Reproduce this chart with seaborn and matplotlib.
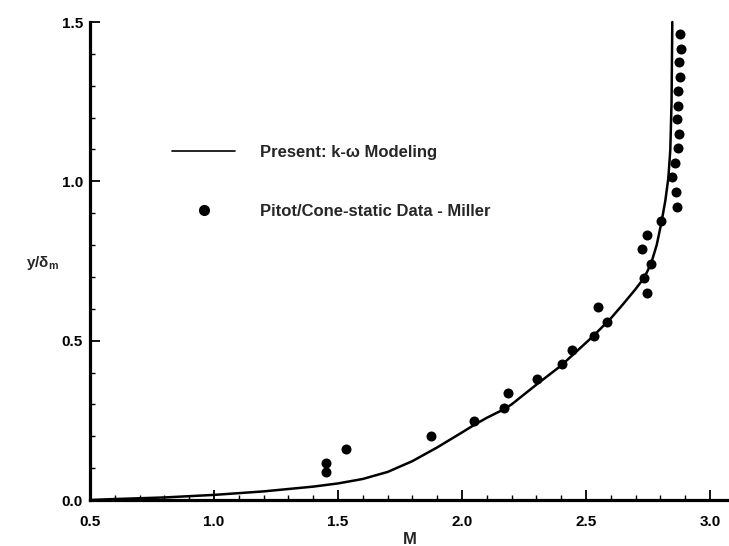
import matplotlib
matplotlib.use("Agg")
import matplotlib.pyplot as plt
from matplotlib.ticker import MultipleLocator
from matplotlib.lines import Line2D
import seaborn as sns
import pandas as pd

# Model curve
curve_M = [0.50, 0.60, 0.80, 1.00, 1.20, 1.40, 1.50, 1.60, 1.70, 1.80, 1.90, 2.00,
           2.05, 2.10, 2.17, 2.20, 2.30, 2.40, 2.53, 2.60, 2.65, 2.70, 2.735, 2.762,
           2.785, 2.804, 2.82, 2.832, 2.840, 2.845, 2.848]
curve_y = [0.000, 0.003, 0.008, 0.016, 0.027, 0.042, 0.052, 0.066, 0.088, 0.122,
           0.165, 0.212, 0.236, 0.258, 0.285, 0.300, 0.362, 0.422, 0.515, 0.570,
           0.615, 0.662, 0.698, 0.741, 0.800, 0.870, 0.940, 1.010, 1.100, 1.250,
           1.500]

# Experimental data (Pitot/Cone-static, Miller)
data_M = [1.452, 1.450, 1.534, 1.875, 2.050, 2.171, 2.187, 2.301, 2.402, 2.444,
          2.533, 2.583, 2.550, 2.745, 2.735, 2.762, 2.727, 2.747, 2.804, 2.868,
          2.862, 2.846, 2.859, 2.871, 2.875, 2.867, 2.871, 2.871, 2.879, 2.875,
          2.883, 2.879]
data_y = [0.117, 0.089, 0.159, 0.202, 0.247, 0.290, 0.337, 0.380, 0.426, 0.470,
          0.516, 0.559, 0.607, 0.650, 0.698, 0.741, 0.787, 0.831, 0.875, 0.920,
          0.966, 1.014, 1.057, 1.104, 1.148, 1.195, 1.237, 1.284, 1.326, 1.373,
          1.415, 1.462]

labels = ["Present: k-\u03c9 Modeling", "Pitot/Cone-static Data - Miller"]
x_ticks = [0.5, 1.0, 1.5, 2.0, 2.5, 3.0]
y_ticks = [0.0, 0.5, 1.0, 1.5]

sns.set_style("ticks")
plt.rcParams["font.family"] = ["Liberation Sans", "DejaVu Sans"]
plt.rcParams["mathtext.fontset"] = "custom"
plt.rcParams["mathtext.bf"] = "Liberation Sans:bold"
plt.rcParams["mathtext.rm"] = "Liberation Sans"

fig = plt.figure(figsize=(7.29, 5.46), dpi=100)
ax = fig.add_axes([90 / 729, 46 / 546, 1 - 90 / 729, 478 / 546])

curve_df = pd.DataFrame({"M": curve_M, "y": curve_y})
data_df = pd.DataFrame({"M": data_M, "y": data_y})

sns.lineplot(data=curve_df, x="M", y="y", ax=ax, color="black", linewidth=1.8,
             sort=False, estimator=None, clip_on=False)
sns.scatterplot(data=data_df, x="M", y="y", ax=ax, color="black", s=52,
                edgecolor="black", linewidth=0, clip_on=False, zorder=3)

ax.set_xlim(0.5, 0.5 + (729 - 90) / 248)
ax.set_ylim(0.0, 1.5)
ax.set_xticks(x_ticks)
ax.set_yticks(y_ticks)
ax.set_xticklabels([f"{v:.1f}" for v in x_ticks], fontweight="bold", fontsize=11)
ax.set_yticklabels([f"{v:.1f}" for v in y_ticks], fontweight="bold", fontsize=11)
ax.xaxis.set_minor_locator(MultipleLocator(0.1))
ax.yaxis.set_minor_locator(MultipleLocator(0.1))
ax.tick_params(which="major", direction="in", length=7, width=1.3, colors="black")
ax.tick_params(which="minor", direction="in", length=3.5, width=1.0, colors="black")
ax.tick_params(axis="y", which="major", pad=5)
ax.tick_params(axis="x", which="major", pad=11)

for side in ["top", "right"]:
    ax.spines[side].set_visible(False)
for side in ["left", "bottom"]:
    ax.spines[side].set_linewidth(2.3)
    ax.spines[side].set_color("black")

ax.set_xlabel("M", fontweight="bold", fontsize=12, labelpad=2)
ax.set_ylabel(r"$\mathbf{y/\delta_m}$", fontsize=11, rotation=0, va="center", ha="center")
ax.yaxis.set_label_coords(-48 / 639, (500 - 263) / 478)

handles = [Line2D([], [], color="black", linewidth=1.2),
           Line2D([], [], color="black", marker="o", linestyle="none", markersize=7)]
leg = ax.legend(handles, labels, loc="upper left",
                bbox_to_anchor=(172 / 729, 1 - 145 / 546), bbox_transform=fig.transFigure,
                frameon=False, prop={"size": 12, "weight": "bold"}, handlelength=3.78,
                handletextpad=1.5, labelspacing=2.63, borderpad=0, borderaxespad=0)

fig.savefig("out.png", dpi=100)
